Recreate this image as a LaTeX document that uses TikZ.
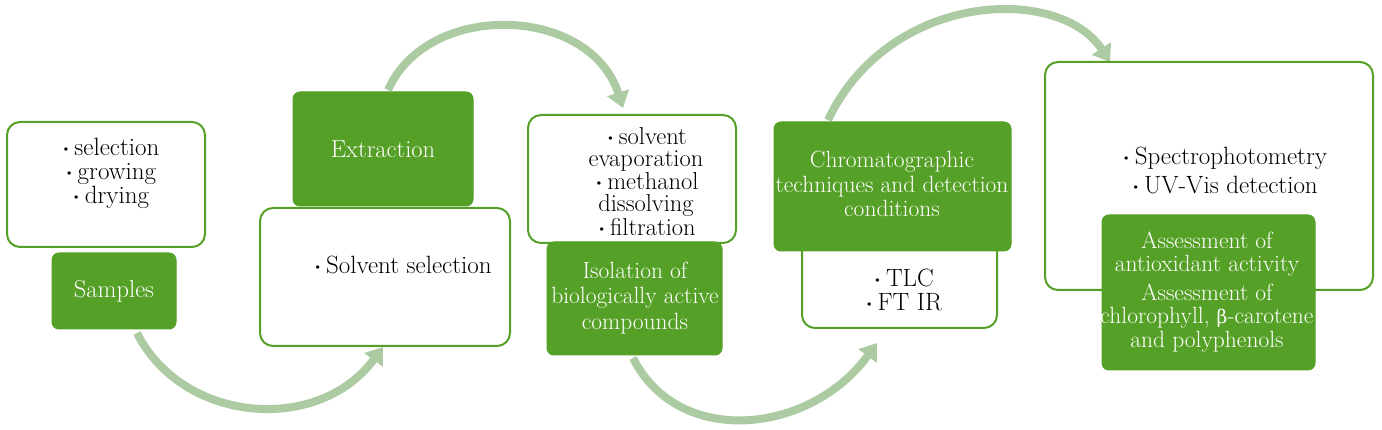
\documentclass[tikz,border=0pt]{standalone}
\usepackage{fontspec}
\newfontfamily\grk{DejaVu Serif}[Scale=0.8]
\usetikzlibrary{arrows.meta}
\definecolor{boxgreen}{RGB}{85,160,38}
\definecolor{arrgreen}{RGB}{172,203,163}
\newcommand{\bul}{\raisebox{2pt}{\fontsize{15}{15}\selectfont •}\hspace{3pt}}
\begin{document}
\begin{tikzpicture}[x=1pt,y=-1pt,
  wbox/.style={draw=boxgreen, line width=2pt, fill=white, rounded corners=13pt, inner sep=0pt},
  gbox/.style={draw=boxgreen, fill=boxgreen, line width=1pt, rounded corners=7pt, inner sep=0pt},
  wtxt/.style={align=center, font=\fontsize{25}{24}\selectfont, inner sep=0pt},
  gtxt/.style={align=center, text=white, font=\fontsize{23.5}{24.5}\selectfont, inner sep=0pt},
  flow/.style={draw=arrgreen, line width=8pt, -{Triangle[width=22pt,length=16pt]}}]
\useasboundingbox (0,0) rectangle (1382,430);
% arrow end points
\coordinate (a1s) at (137,333);
\coordinate (a1e) at (383,347);
\coordinate (a2s) at (388,90);
\coordinate (a2e) at (623,108);
\coordinate (a3s) at (633,358);
\coordinate (a3e) at (877,343);
\coordinate (a4s) at (828,120);
\coordinate (a4e) at (1110,62);
\draw[flow] (a1s) .. controls (182,423) and (318,435) .. (a1e);
\draw[flow] (a2s) .. controls (428,0) and (590,5) .. (a2e);
\draw[flow] (a3s) .. controls (678,448) and (810,435) .. (a3e);
\draw[flow] (a4s) .. controls (890,-10) and (1060,-15) .. (a4e);
% white boxes
\node[wbox, minimum width=198pt, minimum height=125pt] (b1) at (106,184.5) {};
\node[wbox, minimum width=250pt, minimum height=138pt] (solv) at (385,277) {};
\node[wbox, minimum width=208pt, minimum height=128pt] (b3) at (632,179) {};
\node[wbox, minimum width=195pt, minimum height=93pt] (tlc) at (899.5,281.5) {};
\node[wbox, minimum width=328pt, minimum height=228pt] (b5) at (1209,176) {};
% green boxes
\node[gbox, minimum width=124pt, minimum height=76pt] (samp) at (114,291) {};
\node[gbox, minimum width=180pt, minimum height=114pt] (extr) at (383,149) {};
\node[gbox, minimum width=175pt, minimum height=113pt] (iso) at (634.5,298.5) {};
\node[gbox, minimum width=237pt, minimum height=129pt] (chrom) at (892.5,186.5) {};
\node[gbox, minimum width=213pt, minimum height=155pt] (assess) at (1208.5,292.5) {};
% texts
\node[wtxt] (b1t) at (110,173) {\bul selection\\ \bul growing\\ \bul drying};
\node[wtxt] (solvt) at (402,265) {\bul Solvent selection};
\node[wtxt, font=\fontsize{24.5}{21.8}\selectfont] (b3t) at (646,182) {\bul solvent\\ evaporation\\[1.2pt] \bul methanol\\ dissolving\\[1.2pt] \bul filtration};
\node[wtxt] (tlct) at (903,290) {\bul TLC\\ \bul FT IR};
\node[wtxt, font=\fontsize{25}{29}\selectfont\addfontfeature{LetterSpace=5}] (b5t) at (1224,170) {\bul Spectrophotometry\\ \bul UV-Vis detection};
\node[gtxt, font=\fontsize{24.5}{24.5}\selectfont] (sampt) at (114,291) {Samples};
\node[gtxt, font=\fontsize{24.5}{24.5}\selectfont] (extrt) at (383,149) {Extraction};
\node[gtxt, font=\fontsize{23.5}{25.5}\selectfont] (isot) at (635,298) {Isolation of\\ biologically active\\ compounds};
\node[gtxt] (chromt) at (892,184) {Chromatographic\\ techniques and detection\\ conditions};
\node[gtxt, font=\fontsize{23.5}{23.5}\selectfont] (assesst) at (1207,292) {Assessment of\\ antioxidant activity\\[5pt] Assessment of\\ chlorophyll, {\grk β}-carotene\\ and polyphenols};
\end{tikzpicture}
\end{document}
